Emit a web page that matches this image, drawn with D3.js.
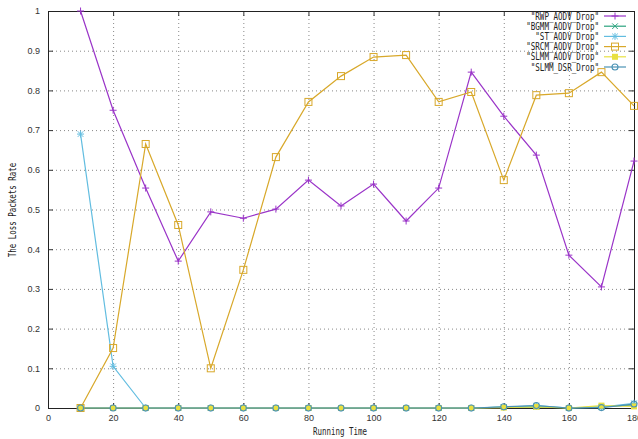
<!DOCTYPE html>
<html><head><meta charset="utf-8">
<script src="https://cdn.jsdelivr.net/npm/d3@7"></script>
<style>body{margin:0;background:#fff}svg{display:block}</style>
</head><body><svg id="c" width="638" height="439"></svg>
<script>
const times = [10,20,30,40,50,60,70,80,90,100,110,120,130,140,150,160,170,180];
const rwpAodv  = [1.0,0.75,0.554,0.37,0.494,0.478,0.501,0.574,0.509,0.564,0.471,0.554,0.846,0.735,0.637,0.385,0.305,0.622];
const bgmmAodv = [0,0,0,0,0,0,0,0,0,0,0,0,0,0.002,0.003,0,0.003,0.008];
const stAodv   = [0.69,0.105,0,0,0,0,0,0,0,0,0,0,0,0.002,0.006,0,0.002,0.012];
const srcmAodv = [0,0.151,0.665,0.461,0.10,0.348,0.632,0.771,0.836,0.884,0.889,0.771,0.796,0.574,0.788,0.793,0.846,0.761];
const slmmAodv = [0,0,0,0,0,0,0,0,0,0,0,0,0,0.001,0.003,0,0.006,0.004];
const slmmDsr  = [0,0,0,0,0,0,0,0,0,0,0,0,0,0.003,0.006,0,0.001,0.01];
const seriesNames = ['"RWP_AODV_Drop"','"BGMM_AODV_Drop"','"ST_AODV_Drop"','"SRCM_AODV_Drop"','"SLMM_AODV_Drop"','"SLMM_DSR_Drop"'];
const seriesColors = ["#9a34c8","#2aa37e","#62bde0","#d8a82a","#e8e040","#4a92b4"];
const seriesSymbols = ["plus","cross","star","box","fbox","circle"];
const xTicks = [0,20,40,60,80,100,120,140,160,180];
const yTicks = [0,0.1,0.2,0.3,0.4,0.5,0.6,0.7,0.8,0.9,1];
const xTitle = "Running Time";
const yTitle = "The Loss Packets Rate";

const allSeries = [rwpAodv,bgmmAodv,stAodv,srcmAodv,slmmAodv,slmmDsr];
const svg = d3.select("#c");
const L=48,R=634,T=11,B=408;
const x = d3.scaleLinear().domain([0,180]).range([L,R]);
const y = d3.scaleLinear().domain([0,1]).range([B,T]);
const tickFont = "'Liberation Sans', Arial, sans-serif";
const monoFont = "'DejaVu Sans Mono', monospace";

// grid
const g = svg.append("g");
g.selectAll(".gx").data(xTicks.filter(t=>t>0&&t<180)).enter().append("line")
 .attr("x1",d=>x(d)+0.5).attr("x2",d=>x(d)+0.5).attr("y1",T).attr("y2",B)
 .attr("stroke","#888").attr("stroke-width",1).attr("stroke-dasharray","1,3");
g.selectAll(".gy").data(yTicks.filter(t=>t>0&&t<1)).enter().append("line")
 .attr("x1",L).attr("x2",R).attr("y1",d=>y(d)+0.5).attr("y2",d=>y(d)+0.5)
 .attr("stroke","#888").attr("stroke-width",1).attr("stroke-dasharray","1,3");

// axes
const xAxis = d3.axisBottom(x).tickValues(xTicks).tickSize(-5).tickPadding(7).tickFormat(d3.format("d"));
const yAxis = d3.axisLeft(y).tickValues(yTicks).tickSize(-5).tickPadding(8).tickFormat(d=>d===0?"0":d===1?"1":d3.format(".1f")(d));
const gx = svg.append("g").attr("transform",`translate(0,${B})`).call(xAxis);
const gy = svg.append("g").attr("transform",`translate(${L},0)`).call(yAxis);
[gx,gy].forEach(a=>{
  a.select(".domain").remove();
  a.selectAll("line").attr("stroke","#333");
  a.selectAll("text").attr("font-family",tickFont).attr("font-size","9px").attr("fill","#333");
});
// mirror ticks
svg.append("g").attr("transform",`translate(0,${T})`).call(d3.axisTop(x).tickValues(xTicks).tickSize(-5).tickFormat(""))
 .call(a=>{a.select(".domain").remove();a.selectAll("line").attr("stroke","#333");});
svg.append("g").attr("transform",`translate(${R},0)`).call(d3.axisRight(y).tickValues(yTicks).tickSize(-5).tickFormat(""))
 .call(a=>{a.select(".domain").remove();a.selectAll("line").attr("stroke","#333");});

// frame
svg.append("rect").attr("x",L+0.5).attr("y",T+0.5).attr("width",R-L).attr("height",B-T)
 .attr("fill","none").attr("stroke","#222").attr("stroke-width",1);

// symbols
function sym(sel, type, color, cx, cy){
  const s=3.5;
  if(type==="plus"||type==="star"){
    sel.append("path").attr("d",`M${cx-s},${cy}H${cx+s}M${cx},${cy-s}V${cy+s}`).attr("stroke",color).attr("fill","none");
  }
  if(type==="cross"||type==="star"){
    sel.append("path").attr("d",`M${cx-s*0.8},${cy-s*0.8}L${cx+s*0.8},${cy+s*0.8}M${cx-s*0.8},${cy+s*0.8}L${cx+s*0.8},${cy-s*0.8}`).attr("stroke",color).attr("fill","none");
  }
  if(type==="box"){
    sel.append("rect").attr("x",cx-3.5).attr("y",cy-3.5).attr("width",7).attr("height",7).attr("fill","none").attr("stroke",color);
  }
  if(type==="fbox"){
    sel.append("rect").attr("x",cx-3).attr("y",cy-3).attr("width",6).attr("height",6).attr("fill",color);
  }
  if(type==="circle"){
    sel.append("circle").attr("cx",cx).attr("cy",cy).attr("r",3).attr("fill","none").attr("stroke",color).attr("stroke-width",1.1);
  }
}

const line = d3.line().x((d,i)=>x(times[i])).y(d=>y(d));
const plot = svg.append("g");
allSeries.forEach((vals,k)=>{
  plot.append("path").attr("d",line(vals)).attr("fill","none").attr("stroke",seriesColors[k]).attr("stroke-width",1.2);
});
allSeries.forEach((vals,k)=>{
  const gg = plot.append("g");
  vals.forEach((v,i)=>sym(gg, seriesSymbols[k], seriesColors[k], x(times[i]), y(v)));
});

// legend
const lg = svg.append("g");
seriesNames.forEach((n,k)=>{
  const yy = 16 + k*10.2;
  const t = lg.append("text").attr("x",599).attr("y",yy+3.5).attr("text-anchor","end")
   .attr("font-family",monoFont).attr("font-size","10px").attr("fill","#222").text(n);
  t.attr("textLength", n.length*4.55).attr("lengthAdjust","spacingAndGlyphs");
  lg.append("line").attr("x1",604).attr("x2",626).attr("y1",yy).attr("y2",yy).attr("stroke",seriesColors[k]).attr("stroke-width",1.2);
  sym(lg, seriesSymbols[k], seriesColors[k], 615, yy);
});

// titles
svg.append("text").attr("x",340).attr("y",435).attr("text-anchor","middle")
 .attr("font-family",monoFont).attr("font-size","10px").attr("fill","#222")
 .attr("textLength",xTitle.length*4.5).attr("lengthAdjust","spacingAndGlyphs").text(xTitle);
svg.append("text").attr("transform","translate(16,210) rotate(-90)").attr("text-anchor","middle")
 .attr("font-family",monoFont).attr("font-size","10px").attr("fill","#222")
 .attr("textLength",yTitle.length*4.5).attr("lengthAdjust","spacingAndGlyphs").text(yTitle);
</script></body></html>
